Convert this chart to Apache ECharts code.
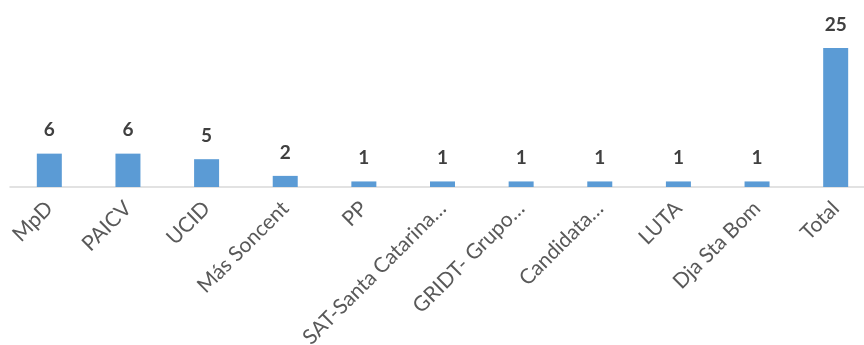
<!DOCTYPE html>
<html><head><meta charset="utf-8">
<script src="https://cdn.jsdelivr.net/npm/echarts@6/dist/echarts.min.js"></script>
<style>html,body{margin:0;padding:0;background:#fff}#c{width:864px;height:345px}</style>
</head><body><div id="c"></div>
<script>
const categories = ['MpD','PAICV','UCID','Más Soncent','PP','SAT-Santa Catarina…','GRIDT- Grupo…','Candidata…','LUTA','Dja Sta Bom','Total'];
const values = [6,6,5,2,1,1,1,1,1,1,25];

const chart = echarts.init(document.getElementById('c'));
chart.setOption({
  animation:false,
  grid:{left:10,width:865,top:48,bottom:158,containLabel:false,outerBoundsMode:'none'},
  xAxis:{type:'category',data:categories,
    axisLine:{lineStyle:{color:'#D9D9D9',width:1.5}},
    axisTick:{show:false},
    axisLabel:{rotate:45,interval:0,margin:18,color:'#595959',fontSize:21,fontFamily:'Lato'}},
  yAxis:{type:'value',min:0,max:25,show:false,splitLine:{show:false}},
  series:[{type:'bar',data:values,barWidth:25,
    itemStyle:{color:'#5B9BD5'},
    label:{show:true,position:'top',distance:14,color:'#404040',fontSize:19,fontWeight:'bold',fontFamily:'Lato'}}]
});
</script></body></html>
